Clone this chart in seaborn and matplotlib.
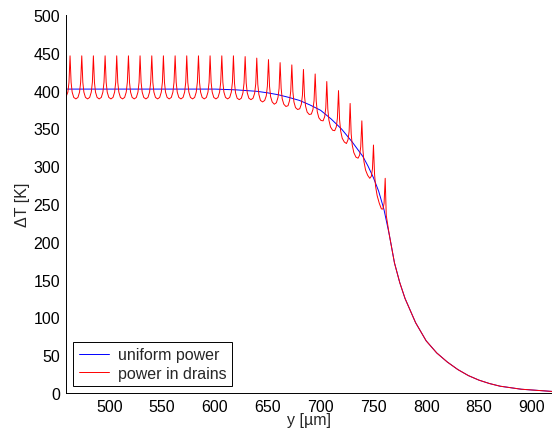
import matplotlib
matplotlib.use('Agg')
import matplotlib.pyplot as plt
import seaborn as sns

# uniform power curve
blue_y = [458.5, 500, 550, 600, 620, 640, 650, 660, 670, 680, 690, 700, 710, 720, 730,
          740, 745, 750, 755, 760, 765, 770, 775, 780, 790, 800, 810, 820, 830, 840,
          850, 860, 870, 880, 890, 900, 910, 920]
blue_T = [402, 402, 402, 402, 401, 399, 397, 394.5, 391, 387, 381, 374, 362.5, 349, 332,
          313, 300, 285, 267, 243, 210, 172, 146, 125, 93, 69, 53, 41, 31, 23,
          17, 12.5, 9, 7, 5, 4, 3, 2]

# power in drains: drain positions, and per-drain values at offsets after each drain
drain_y = [462.8, 473.9, 484.9, 496.0, 507.0, 518.1, 529.1, 540.2, 551.2, 562.3,
           573.3, 584.4, 595.4, 606.5, 617.5, 628.6, 639.6, 650.7, 661.7, 672.8,
           683.8, 694.9, 705.9, 717.0, 728.0, 739.1, 750.1, 761.2]
offset_y = [0, 1.0, 2.0, 3.5, 5.5, 7.5, 9.0, 10.05]
drain_rows = [
    [446, 411, 398, 391, 389, 391, 398, 411],
    [446, 411, 398, 391, 389, 391, 398, 411],
    [446, 411, 398, 391, 389, 391, 398, 411],
    [446, 411, 398, 391, 389, 391, 398, 411],
    [446, 411, 398, 391, 389, 391, 398, 411],
    [446, 411, 398, 391, 389, 391, 398, 411],
    [446, 411, 398, 391, 389, 391, 398, 411],
    [446, 411, 398, 391, 389, 391, 398, 411],
    [446, 411, 398, 391, 389, 391, 398, 411],
    [446, 411, 398, 391, 389, 391, 398, 411],
    [446, 411, 398, 391, 389, 391, 398, 411],
    [446, 411, 398, 391, 389, 391, 398, 411],
    [446, 411, 398, 391, 389, 391, 398, 411],
    [446, 411, 398, 391, 389, 391, 398, 411],
    [446, 410, 397, 390, 388, 390, 397, 410],
    [445, 410, 397, 390, 388, 390, 396.5, 409],
    [443, 408, 395, 387, 385, 387, 393, 406],
    [441, 405.5, 392, 385, 382, 384, 391, 403],
    [437, 403, 389, 382, 379, 380, 387, 399],
    [434, 398.5, 385, 377.5, 375, 376, 382, 394],
    [428, 393, 379.5, 371.6, 368.4, 369, 375, 387],
    [422, 386, 372, 364, 360.5, 360, 365.5, 377],
    [412, 375, 361, 352, 347.6, 347, 352, 363.5],
    [400, 361.5, 347, 337, 332, 330, 335, 346],
    [383, 342.7, 328, 318, 312, 310.6, 314.7, 325.7],
    [360, 321.7, 306, 295, 288, 284, 286.7, 296.5],
    [328, 290, 273.4, 261, 251, 243.5, 243.3, 251],
    [284, 235],
]
lead_y = [458.5, 460.75, 461.8]
lead_T = [390, 398, 411]


red_y = list(lead_y)
red_T = list(lead_T)
for y0, row in zip(drain_y, drain_rows):
    for dy, t in zip(offset_y, row):
        red_y.append(y0 + dy)
        red_T.append(t)
# beyond the last drain both curves coincide
for y, t in zip(blue_y, blue_T):
    if y >= 765:
        red_y.append(y)
        red_T.append(t)

sns.set_style('white')
plt.rcParams['font.family'] = ['Liberation Sans', 'DejaVu Sans']

fig = plt.figure(figsize=(5.52, 4.35), dpi=100)
ax = fig.add_axes([65.5 / 552, 41 / 435, 487.4 / 552, 378 / 435])

sns.lineplot(x=blue_y, y=blue_T, color='#0000ff', lw=0.7, label='uniform power',
             sort=False, estimator=None, ax=ax)
sns.lineplot(x=red_y, y=red_T, color='#ff0000', lw=0.7, label='power in drains',
             sort=False, estimator=None, ax=ax)

ax.set_xlim(458.5, 920)
ax.set_ylim(0, 500)
ax.set_xticks(range(500, 901, 50))
ax.set_yticks(range(0, 501, 50))
ax.tick_params(direction='in', length=3.6, width=0.7, labelsize=11.5, pad=4,
               colors='black')
for side in ['top', 'right']:
    ax.spines[side].set_visible(False)
for side in ['left', 'bottom']:
    ax.spines[side].set_color('black')
    ax.spines[side].set_linewidth(0.7)

ax.set_xlabel('y [µm]', fontsize=11.5, labelpad=-1)
ax.set_ylabel('ΔT [K]', fontsize=11.5, labelpad=2)

ax.legend(loc='lower left', bbox_to_anchor=(0.016, 0.018), borderaxespad=0,
          fontsize=11.5, fancybox=False, edgecolor='black', framealpha=1,
          borderpad=0.35, handlelength=1.9, handletextpad=0.55, labelspacing=0.2)
ax.get_legend().get_frame().set_linewidth(0.7)

fig.savefig('out.png', dpi=100)
